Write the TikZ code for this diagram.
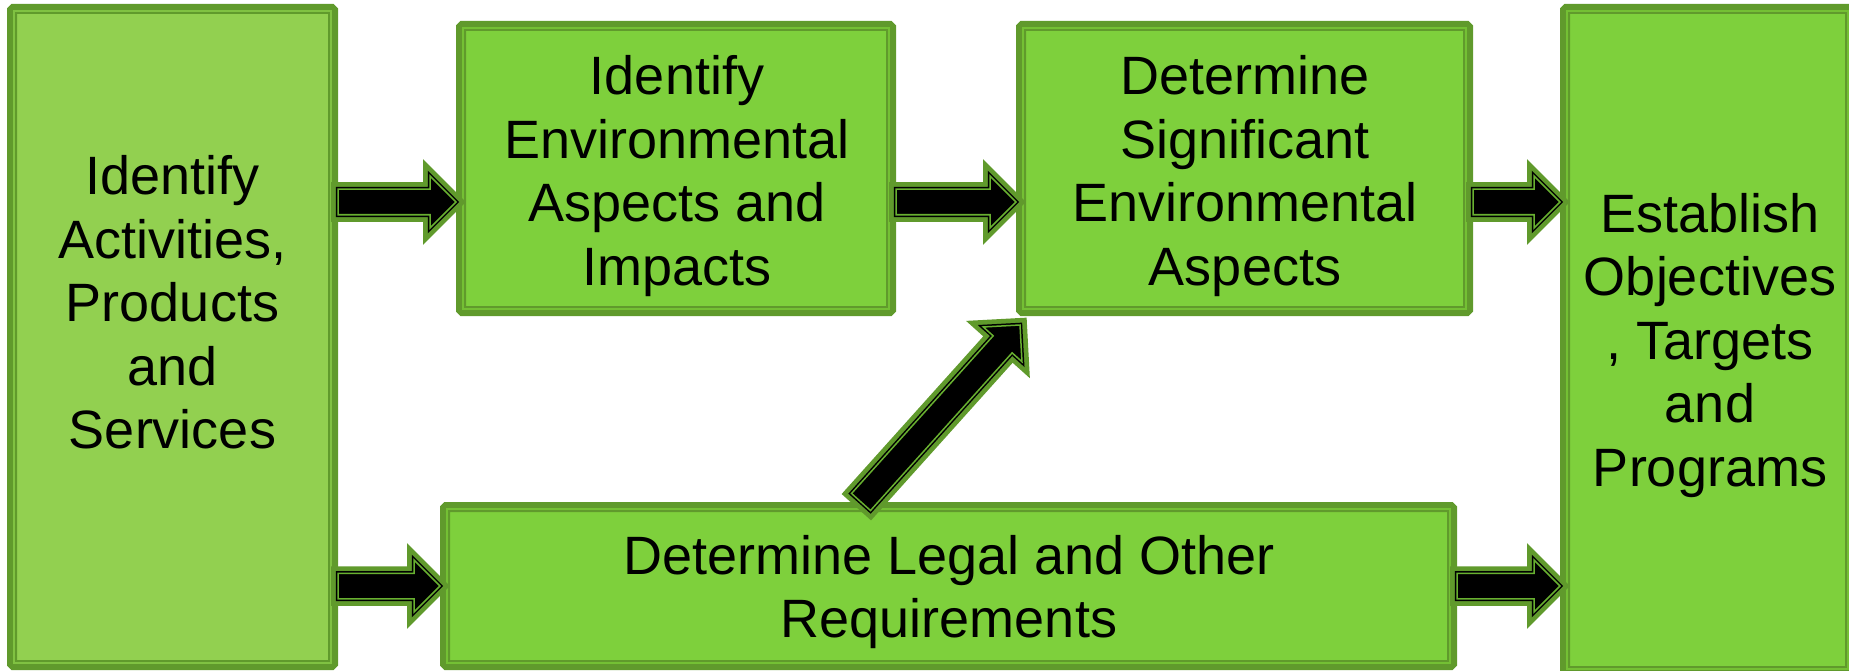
\documentclass[tikz,border=0pt]{standalone}
\usepackage{fontspec}
\setmainfont{Liberation Sans}
\usetikzlibrary{calc}
\definecolor{dkg}{RGB}{96,154,44}
\definecolor{fillA}{RGB}{146,208,80}
\definecolor{fillB}{RGB}{126,208,60}
\definecolor{stripeA}{RGB}{128,194,66}
\definecolor{stripeB}{RGB}{116,192,52}
\definecolor{arrline}{RGB}{104,176,48}
\newcommand\blockarrow[2]{%
  \path[preaction={draw=dkg,line width=14pt,line join=miter},
        fill=black,
        postaction={draw=black,line width=1.5pt,line join=miter,double=arrline,double distance=1.5pt}]
    ($(#1)!12.75pt!90:(#2)$) --
    ($(#2)!26pt!(#1)!12.75pt!-90:(#1)$) --
    ($(#2)!26pt!(#1)!26pt!-90:(#1)$) --
    (#2) --
    ($(#2)!26pt!(#1)!26pt!90:(#1)$) --
    ($(#2)!26pt!(#1)!12.75pt!90:(#1)$) --
    ($(#1)!12.75pt!-90:(#2)$) -- cycle;}
\begin{document}
\begin{tikzpicture}[x=1pt,y=-1pt,
  box/.style={draw=dkg,line width=10pt,rounded corners=1.5pt,inner sep=0pt,
    minimum width=#1},
  txt/.style={align=center,inner sep=0pt,font=\fontsize{54}{63.5}\selectfont},
  stripe/.style={draw=#1,line width=2pt}]
\useasboundingbox (0,0) rectangle (1849,671);
% boxes
\node[box=321pt,fill=fillA,minimum height=656pt] (b1) at (172.5,337) {};
\node[box=430pt,fill=fillB,minimum height=285pt] (b2) at (676,168.5) {};
\node[box=447pt,fill=fillB,minimum height=285pt] (b3) at (1244.5,168.5) {};
\node[box=1007pt,fill=fillB,minimum height=158pt] (b4) at (948.5,586) {};
\node[box=285pt,fill=fillB,minimum height=662pt] (b5) at (1707.5,340) {};
\draw[stripe=stripeA] ($(b1.north west)+(7,7)$) rectangle ($(b1.south east)+(-7,-7)$);
\foreach \b in {b2,b3,b4,b5}
  \draw[stripe=stripeB] ($(\b.north west)+(7,7)$) rectangle ($(\b.south east)+(-7,-7)$);
% texts
\node[txt] (t1) at (172.5,302.5) {Identify\\Activities,\\Products\\and\\Services};
\node[txt] (t2) at (677,176) {Identify\\Environmental\\Aspects and\\Impacts};
\node[txt] (t3) at (1245,176) {Determine\\Significant\\Environmental\\Aspects};
\node[txt] (t4) at (949,592) {Determine Legal and Other\\Requirements};
\node[txt] (t5) at (1710,345.5) {Establish\\Objectives\\, Targets\\and\\Programs};
% arrows
\coordinate (ytop) at (0,202);
\coordinate (ybot) at (0,586);
\coordinate (a1s) at (b1.east |- ytop);
\coordinate (a1e) at (b2.west |- ytop);
\coordinate (a2s) at (b2.east |- ytop);
\coordinate (a2e) at (b3.west |- ytop);
\coordinate (a3s) at (b3.east |- ytop);
\coordinate (a3e) at (b5.west |- ytop);
\coordinate (a4s) at (b1.east |- ybot);
\coordinate (a4e) at (b4.west |- ybot);
\coordinate (a5s) at (b4.east |- ybot);
\coordinate (a5e) at (b5.west |- ybot);
\coordinate (xd) at (861,0);
\coordinate (a6s) at (xd |- b4.north);
\coordinate (a6e) at ($(b3.south west)+(4,9)$);
\blockarrow{a1s}{a1e}
\blockarrow{a2s}{a2e}
\blockarrow{a3s}{a3e}
\blockarrow{a4s}{a4e}
\blockarrow{a5s}{a5e}
\blockarrow{a6s}{a6e}
\end{tikzpicture}
\end{document}
